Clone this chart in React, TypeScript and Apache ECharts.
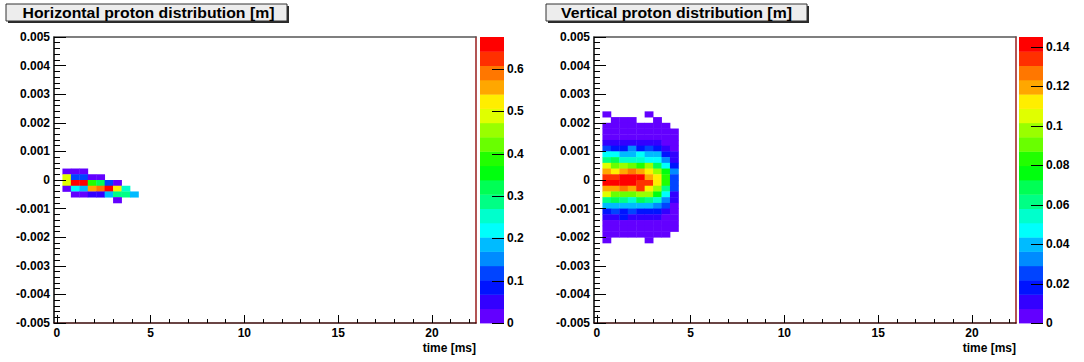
import React, { useEffect, useRef } from 'react';
import * as echarts from 'echarts';

// ---- axis ranges / binning ----
const X_MIN = -0.15;
const X_MAX = 22.35;
const X_BIN = 0.45;
const Y_MIN = -0.005;
const Y_MAX = 0.005;
const Y_BIN = 0.0002;
const FIRST_COL = 1; // first filled time bin

const xMajorTicks = [0, 5, 10, 15, 20];
const xMinorTicks = [1, 2, 3, 4, 6, 7, 8, 9, 11, 12, 13, 14, 16, 17, 18, 19, 21, 22];

// ---- Horizontal distribution (rows: lower edge of y bin, columns: time bins 1..9) ----
const hRowLows = [0.0002, 0, -0.0002, -0.0004, -0.0006, -0.0008];
const hValues: (number | null)[][] = [
  [0.015, 0.012, 0.018, null, null, null, null, null, null],
  [0.49, 0.12, 0.11, 0.02, 0.015, null, null, null, null],
  [0.48, 0.66, 0.67, 0.39, 0.32, 0.12, 0.02, null, null],
  [0.016, 0.22, 0.19, 0.56, 0.59, 0.65, 0.53, 0.25, null],
  [null, 0.015, 0.02, 0.05, 0.055, 0.19, 0.29, 0.28, 0.18],
  [null, null, null, null, null, null, 0.017, null, null],
];

// ---- Vertical distribution ----
const vRowLows = [
  0.0022, 0.002, 0.0018, 0.0016, 0.0014, 0.0012, 0.001, 0.0008, 0.0006, 0.0004, 0.0002, 0,
  -0.0002, -0.0004, -0.0006, -0.0008, -0.001, -0.0012, -0.0014, -0.0016, -0.0018, -0.002, -0.0022,
];
const vValues: (number | null)[][] = [
  [0.003, null, null, null, null, 0.003, null, null, null],
  [null, 0.004, 0.003, 0.004, null, null, 0.003, null, null],
  [0.004, 0.005, 0.004, 0.005, 0.004, 0.005, 0.004, 0.003, null],
  [0.005, 0.006, 0.006, 0.005, 0.006, 0.005, 0.006, 0.005, 0.004],
  [0.006, 0.007, 0.006, 0.007, 0.006, 0.007, 0.006, 0.005, 0.004],
  [0.011, 0.012, 0.011, 0.012, 0.011, 0.012, 0.011, 0.006, 0.005],
  [0.025, 0.019, 0.018, 0.03, 0.019, 0.026, 0.019, 0.011, 0.006],
  [0.047, 0.048, 0.04, 0.041, 0.047, 0.04, 0.041, 0.018, 0.011],
  [0.062, 0.069, 0.055, 0.054, 0.056, 0.047, 0.048, 0.033, 0.012],
  [0.105, 0.091, 0.098, 0.09, 0.083, 0.098, 0.069, 0.047, 0.018],
  [0.12, 0.112, 0.121, 0.127, 0.119, 0.113, 0.098, 0.076, 0.033],
  [0.134, 0.135, 0.141, 0.142, 0.141, 0.12, 0.112, 0.083, 0.025],
  [0.141, 0.142, 0.142, 0.141, 0.134, 0.135, 0.112, 0.083, 0.025],
  [0.12, 0.121, 0.127, 0.119, 0.134, 0.113, 0.098, 0.062, 0.025],
  [0.105, 0.091, 0.09, 0.091, 0.098, 0.097, 0.076, 0.047, 0.011],
  [0.062, 0.069, 0.061, 0.054, 0.069, 0.062, 0.054, 0.033, 0.011],
  [0.04, 0.041, 0.04, 0.041, 0.04, 0.04, 0.033, 0.025, 0.005],
  [0.018, 0.025, 0.019, 0.025, 0.018, 0.019, 0.018, 0.011, 0.005],
  [0.011, 0.012, 0.018, 0.011, 0.012, 0.011, 0.011, 0.006, 0.005],
  [0.006, 0.006, 0.007, 0.006, 0.006, 0.007, 0.006, 0.005, 0.004],
  [0.005, 0.005, 0.006, 0.005, 0.005, 0.006, 0.005, 0.004, 0.003],
  [0.004, 0.004, 0.004, 0.004, 0.004, 0.004, 0.004, 0.003, null],
  [0.003, null, null, null, null, 0.003, null, null, null],
];

const hZMax = 0.676;
const vZMax = 0.145;
const hZTicks = [0, 0.1, 0.2, 0.3, 0.4, 0.5, 0.6];
const vZTicks = [0, 0.02, 0.04, 0.06, 0.08, 0.1, 0.12, 0.14];

const titles = ['Horizontal proton distribution [m]', 'Vertical proton distribution [m]'];
const xName = 'time [ms]';

// ROOT "pretty palette", 20 contour levels
const PALETTE = [
  '#6300ff', '#3300ff', '#0014ff', '#0044ff', '#008bff', '#00bbff', '#00fffc', '#00ffcc',
  '#00ff85', '#00ff55', '#00ff0e', '#22ff00', '#69ff00', '#99ff00', '#e0ff00', '#ffee00',
  '#ffa700', '#ff7700', '#ff3000', '#ff0000',
];
const N_LEVELS = PALETTE.length;

const FONT = 'Liberation Sans';
const PANEL_LEFTS = [54, 594];
const CB_LEFTS = [480, 1019];
const TOP = 37;
const H = 286;
const W = 422;

function buildCells(rowLows: number[], values: (number | null)[][]) {
  const out: number[][] = [];
  rowLows.forEach((low, i) => {
    values[i].forEach((v, j) => {
      if (v == null) return;
      out.push([X_MIN + (FIRST_COL + j + 0.5) * X_BIN, low + Y_BIN / 2, v]);
    });
  });
  return out;
}

function fmtY(v: number) {
  if (Math.abs(v) < 1e-12) return '0';
  return (v < 0 ? '-' : '') + Math.abs(v).toFixed(3);
}
function fmtZ(v: number) {
  if (Math.abs(v) < 1e-12) return '0';
  return String(Number(v.toFixed(3)));
}

const labelStyle = { fontFamily: FONT, fontWeight: 'bold' as const, fontSize: 12, color: '#000' };

function mainOption() {
  const panels = [
    { cells: buildCells(hRowLows, hValues), zMax: hZMax, zTicks: hZTicks },
    { cells: buildCells(vRowLows, vValues), zMax: vZMax, zTicks: vZTicks },
  ];
  const grid: any[] = [];
  const xAxis: any[] = [];
  const yAxis: any[] = [];
  const series: any[] = [];
  const visualMap: any[] = [];
  const graphic: any[] = [];

  panels.forEach((p, pi) => {
    const gMain = grid.length;
    grid.push({ left: PANEL_LEFTS[pi], top: TOP, width: W, height: H, show: false });
    const gCb = grid.length;
    grid.push({ left: CB_LEFTS[pi], top: TOP, width: 24, height: H, show: false });

    const xMain = xAxis.length;
    xAxis.push({
      type: 'value', gridIndex: gMain, position: 'bottom', min: X_MIN, max: X_MAX,
      axisLine: { show: true, onZero: false, lineStyle: { color: '#3a0808', width: 1.5 } },
      axisTick: { show: false },
      axisLabel: { show: true, customValues: xMajorTicks, margin: 4, ...labelStyle },
      splitLine: { show: false },
      name: xName, nameLocation: 'end', nameGap: 0,
      nameTextStyle: { ...labelStyle, align: 'right', verticalAlign: 'top', padding: [19, 0, 0, 0] },
    });
    xAxis.push({
      type: 'value', gridIndex: gMain, position: 'top', min: X_MIN, max: X_MAX,
      axisLine: { show: true, onZero: false, lineStyle: { color: '#555', width: 1.5 } },
      axisTick: { show: false }, axisLabel: { show: false }, splitLine: { show: false },
    });
    const xCb = xAxis.length;
    xAxis.push({ type: 'value', gridIndex: gCb, min: 0, max: 1, show: false });

    const yMain = yAxis.length;
    yAxis.push({
      type: 'value', gridIndex: gMain, position: 'left', min: Y_MIN, max: Y_MAX, interval: 0.001,
      axisLine: { show: true, onZero: false, lineStyle: { color: '#000', width: 1.5 } },
      axisTick: { show: false },
      axisLabel: { show: true, margin: 4, formatter: fmtY, ...labelStyle },
      splitLine: { show: false },
    });
    yAxis.push({
      type: 'value', gridIndex: gMain, position: 'right', min: Y_MIN, max: Y_MAX,
      axisLine: { show: true, onZero: false, lineStyle: { color: '#9a1c1c', width: 1.5 } },
      axisTick: { show: false }, axisLabel: { show: false }, splitLine: { show: false },
    });
    const yCb = yAxis.length;
    yAxis.push({
      type: 'value', gridIndex: gCb, position: 'right', min: 0, max: p.zMax,
      axisLine: { show: false, onZero: false },
      axisTick: { show: false },
      axisLabel: { show: true, customValues: p.zTicks, margin: 3, formatter: fmtZ, ...labelStyle },
      splitLine: { show: false },
    });

    const step = p.zMax / N_LEVELS;
    const heatIdx = series.length;
    series.push({
      type: 'custom',
      xAxisIndex: xMain, yAxisIndex: yMain,
      data: p.cells,
      encode: { x: 0, y: 1 },
      z: 1,
      renderItem: (params: any, api: any) => {
        const x = api.value(0);
        const y = api.value(1);
        const p0 = api.coord([x - X_BIN / 2, y + Y_BIN / 2]);
        const p1 = api.coord([x + X_BIN / 2, y - Y_BIN / 2]);
        return {
          type: 'rect',
          shape: { x: p0[0], y: p0[1], width: p1[0] - p0[0] + 0.4, height: p1[1] - p0[1] + 0.4 },
          style: { fill: api.visual('color') },
        };
      },
    });
    visualMap.push({
      type: 'piecewise', show: false, seriesIndex: heatIdx, dimension: 2,
      pieces: PALETTE.map((c, k) => ({ gte: k * step, lt: (k + 1) * step, color: c })),
      outOfRange: { color: PALETTE[N_LEVELS - 1] },
    });

    // palette bar
    series.push({
      type: 'custom',
      xAxisIndex: xCb, yAxisIndex: yCb,
      data: PALETTE.map((_, k) => [k]),
      encode: { x: -1, y: -1 },
      z: 1,
      renderItem: (params: any, api: any) => {
        const k = api.value(0);
        const p0 = api.coord([0, (k + 1) * step]);
        const p1 = api.coord([1, k * step]);
        return {
          type: 'rect',
          shape: { x: p0[0], y: p0[1], width: p1[0] - p0[0], height: p1[1] - p0[1] + 0.4 },
          style: { fill: PALETTE[k] },
        };
      },
    });
    // palette axis ticks
    series.push({
      type: 'custom',
      xAxisIndex: xCb, yAxisIndex: yCb,
      data: p.zTicks.map((v) => [v]),
      encode: { x: -1, y: -1 },
      z: 5, silent: true,
      renderItem: (params: any, api: any) => {
        const v = api.value(0);
        const q = api.coord([1, v]);
        const y = Math.round(q[1]) + 0.5;
        return { type: 'line', shape: { x1: q[0], y1: y, x2: q[0] - 12, y2: y }, style: { stroke: '#000', lineWidth: 1 } };
      },
    });
  });

  // title boxes
  const boxes = [
    { x: 6, w: 281, cx: 148.5 },
    { x: 546, w: 261, cx: 676.5 },
  ];
  boxes.forEach((b, i) => {
    graphic.push({
      type: 'rect', silent: true,
      shape: { x: b.x + 2, y: 6, width: b.w, height: 17 },
      style: { fill: '#2a2a2a' },
    });
    graphic.push({
      type: 'rect', silent: true,
      shape: { x: b.x, y: 4, width: b.w, height: 17 },
      style: { fill: '#ededed', stroke: '#333', lineWidth: 1 },
    });
    graphic.push({
      type: 'text', silent: true,
      x: b.cx, y: 12.5, scaleX: 1.13, scaleY: 1,
      style: {
        text: titles[i], fontFamily: FONT, fontWeight: 'bold', fontSize: 14,
        fill: '#000', align: 'center', verticalAlign: 'middle',
      },
    });
  });

  return {
    animation: false,
    backgroundColor: '#ffffff',
    grid, xAxis, yAxis, series, visualMap, graphic,
  };
}

// A transparent overlay chart that only carries the frame ticks (one x and one y axis per grid)
function tickOption() {
  const grid: any[] = [];
  const xAxis: any[] = [];
  const yAxis: any[] = [];
  const series: any[] = [];
  PANEL_LEFTS.forEach((left) => {
    // grid A: x major ticks + y major/minor ticks
    const gA = grid.length;
    grid.push({ left, top: TOP, width: W, height: H, show: false });
    xAxis.push({
      type: 'value', gridIndex: gA, min: X_MIN, max: X_MAX,
      axisLine: { show: false, onZero: false },
      axisTick: { show: true, inside: true, length: 8, customValues: xMajorTicks, lineStyle: { color: '#000', width: 1 } },
      axisLabel: { show: false }, splitLine: { show: false },
    });
    yAxis.push({
      type: 'value', gridIndex: gA, min: Y_MIN, max: Y_MAX, interval: 0.001,
      axisLine: { show: false, onZero: false },
      axisTick: { show: true, inside: true, length: 12, lineStyle: { color: '#000', width: 1 } },
      minorTick: { show: true, splitNumber: 5, length: 6, lineStyle: { color: '#000', width: 1 } },
      axisLabel: { show: false }, splitLine: { show: false },
    });
    series.push({ type: 'line', xAxisIndex: xAxis.length - 1, yAxisIndex: yAxis.length - 1, data: [], silent: true });

    // grid B: x minor ticks
    const gB = grid.length;
    grid.push({ left, top: TOP, width: W, height: H, show: false });
    xAxis.push({
      type: 'value', gridIndex: gB, min: X_MIN, max: X_MAX,
      axisLine: { show: false, onZero: false },
      axisTick: { show: true, inside: true, length: 4, customValues: xMinorTicks, lineStyle: { color: '#000', width: 1 } },
      axisLabel: { show: false }, splitLine: { show: false },
    });
    yAxis.push({
      type: 'value', gridIndex: gB, min: Y_MIN, max: Y_MAX,
      axisLine: { show: false, onZero: false },
      axisTick: { show: false }, axisLabel: { show: false }, splitLine: { show: false },
    });
    series.push({ type: 'line', xAxisIndex: xAxis.length - 1, yAxisIndex: yAxis.length - 1, data: [], silent: true });
  });
  return { animation: false, grid, xAxis, yAxis, series };
}

export default function App() {
  const ref = useRef<HTMLDivElement>(null);
  const tickRef = useRef<HTMLDivElement>(null);

  useEffect(() => {
    if (!ref.current || !tickRef.current) return;
    const chart = echarts.init(ref.current, undefined, { renderer: 'svg' });
    const ticks = echarts.init(tickRef.current, undefined, { renderer: 'svg' });
    try {
      chart.setOption(mainOption());
    } catch (e) {
      // keep going so the tick overlay is still drawn
    }
    try {
      ticks.setOption(tickOption());
    } catch (e) {
      // ignore
    }
    return () => {
      ticks.dispose();
      chart.dispose();
    };
  }, []);

  return (
    <>
      <div
        ref={ref}
        style={{ position: 'absolute', left: 0, top: 0, width: 1084, height: 362 }}
      />
      <div
        ref={tickRef}
        style={{ position: 'absolute', left: 0, top: 0, width: 1084, height: 362, pointerEvents: 'none' }}
      />
    </>
  );
}
